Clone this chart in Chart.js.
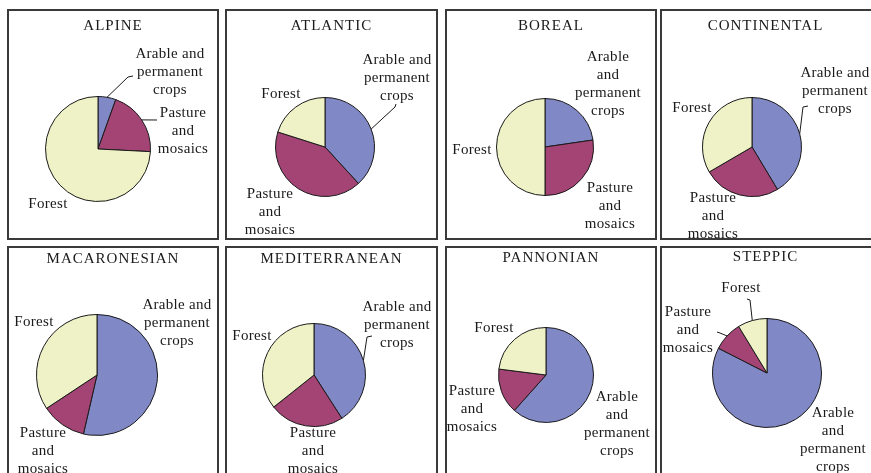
<!DOCTYPE html>
<html>
<head>
<meta charset="utf-8">
<script src="https://cdn.jsdelivr.net/npm/chart.js@4"></script>
<style>
  body { margin: 0; background: #fff; width: 871px; height: 473px; overflow: hidden; position: relative; }
  .panel { position: absolute; box-sizing: border-box; border: 2px solid #3a3a3a; }
  .panel canvas { position: absolute; left: 0; top: 0; }
</style>
</head>
<body>
<script>
// data
const regions = ['ALPINE', 'ATLANTIC', 'BOREAL', 'CONTINENTAL', 'MACARONESIAN', 'MEDITERRANEAN', 'PANNONIAN', 'STEPPIC'];
const categories = ['Arable and permanent crops', 'Pasture and mosaics', 'Forest'];
const arable  = [5.5, 38.2, 22.7, 41.4, 53.6, 40.9, 61.6, 82.5];
const pasture = [20.3, 41.7, 27.3, 25.2, 12.1, 23.4, 15.4, 8.8];
const forest  = [74.2, 20.1, 50.0, 33.4, 34.3, 35.7, 23.0, 8.7];
const colors = ['#8088c6', '#a34474', '#eff2c6'];

// layout (page pixels): panel box, pie centre/radius, title y
const boxes = [
    [7, 9, 212, 231], [225, 9, 213, 231], [445, 9, 212, 231], [660, 9, 215, 231],
    [7, 246, 212, 240], [225, 246, 213, 240], [445, 246, 212, 240], [660, 246, 215, 240]
];
const pies = [
    [98, 149, 53], [325, 147, 50], [545, 147, 49], [752, 147, 50],
    [97, 375, 61], [314, 375, 52], [546, 375, 48], [767, 373, 55]
];
const titleY = [26, 26, 26, 26, 259, 259, 258, 257];

// labels: slice index, lines, centre x, first line y, leader elbow points
const labels = [
    [
        {s: 0, lines: ['Arable and', 'permanent', 'crops'], x: 170, y: 54, leader: [[128, 77], [133, 76]]},
        {s: 1, lines: ['Pasture', 'and', 'mosaics'], x: 183, y: 113, leader: [[157, 120]]},
        {s: 2, lines: ['Forest'], x: 48, y: 204}
    ],
    [
        {s: 0, lines: ['Arable and', 'permanent', 'crops'], x: 397, y: 60, leader: [[395, 107], [396, 104]]},
        {s: 1, lines: ['Pasture', 'and', 'mosaics'], x: 270, y: 194},
        {s: 2, lines: ['Forest'], x: 281, y: 94}
    ],
    [
        {s: 0, lines: ['Arable', 'and', 'permanent', 'crops'], x: 608, y: 57},
        {s: 1, lines: ['Pasture', 'and', 'mosaics'], x: 610, y: 188},
        {s: 2, lines: ['Forest'], x: 472, y: 150}
    ],
    [
        {s: 0, lines: ['Arable and', 'permanent', 'crops'], x: 835, y: 73, leader: [[803, 107], [808, 106]]},
        {s: 1, lines: ['Pasture', 'and', 'mosaics'], x: 713, y: 198},
        {s: 2, lines: ['Forest'], x: 692, y: 108}
    ],
    [
        {s: 0, lines: ['Arable and', 'permanent', 'crops'], x: 177, y: 305},
        {s: 1, lines: ['Pasture', 'and', 'mosaics'], x: 43, y: 433},
        {s: 2, lines: ['Forest'], x: 34, y: 322}
    ],
    [
        {s: 0, lines: ['Arable and', 'permanent', 'crops'], x: 397, y: 307, leader: [[367, 337], [372, 336]]},
        {s: 1, lines: ['Pasture', 'and', 'mosaics'], x: 313, y: 433},
        {s: 2, lines: ['Forest'], x: 252, y: 336}
    ],
    [
        {s: 0, lines: ['Arable', 'and', 'permanent', 'crops'], x: 617, y: 397},
        {s: 1, lines: ['Pasture', 'and', 'mosaics'], x: 472, y: 391},
        {s: 2, lines: ['Forest'], x: 494, y: 328}
    ],
    [
        {s: 0, lines: ['Arable', 'and', 'permanent', 'crops'], x: 833, y: 413},
        {s: 1, lines: ['Pasture', 'and', 'mosaics'], x: 688, y: 312, leader: [[720, 333], [717, 332]]},
        {s: 2, lines: ['Forest'], x: 741, y: 288, leader: [[750, 300], [747, 299]]}
    ]
];

const FONT = '15px "Liberation Serif", "DejaVu Serif", serif';

const textPlugin = {
    id: 'panelText',
    afterDatasetsDraw(chart, args, opts) {
        const ctx = chart.ctx;
        const ox = opts.ox, oy = opts.oy;
        const arcs = chart.getDatasetMeta(0).data;
        ctx.save();
        ctx.fillStyle = '#1a1a1a';
        ctx.strokeStyle = '#1a1a1a';
        ctx.lineWidth = 1;
        ctx.font = FONT;
        ctx.textAlign = 'center';
        ctx.textBaseline = 'middle';
        ctx.letterSpacing = '1px';
        ctx.fillText(opts.title, opts.titleX - ox, opts.titleY - oy);
        ctx.letterSpacing = '0.3px';
        opts.labels.forEach(lb => {
            lb.lines.forEach((t, i) => ctx.fillText(t, lb.x - ox, lb.y + i * 18 - oy));
            if (lb.leader) {
                const a = arcs[lb.s];
                const mid = (a.startAngle + a.endAngle) / 2;
                ctx.beginPath();
                ctx.moveTo(a.x + Math.cos(mid) * a.outerRadius, a.y + Math.sin(mid) * a.outerRadius);
                lb.leader.forEach(p => ctx.lineTo(p[0] - ox, p[1] - oy));
                ctx.stroke();
            }
        });
        ctx.restore();
    }
};

regions.forEach((name, i) => {
    const [bx, by, bw, bh] = boxes[i];
    const div = document.createElement('div');
    div.className = 'panel';
    div.style.left = bx + 'px';
    div.style.top = by + 'px';
    div.style.width = bw + 'px';
    div.style.height = bh + 'px';
    const cw = bw - 4, ch = bh - 4;
    const canvas = document.createElement('canvas');
    canvas.width = cw;
    canvas.height = ch;
    canvas.style.width = cw + 'px';
    canvas.style.height = ch + 'px';
    div.appendChild(canvas);
    document.body.appendChild(div);

    const ox = bx + 2, oy = by + 2;
    const [cx, cy, r] = pies[i];
    const px = cx - ox, py = cy - oy;

    new Chart(canvas.getContext('2d'), {
        type: 'pie',
        data: {
            labels: categories,
            datasets: [{
                data: [arable[i], pasture[i], forest[i]],
                backgroundColor: colors,
                borderColor: '#1a1a1a',
                borderWidth: 1
            }]
        },
        options: {
            responsive: false,
            animation: false,
            events: [],
            layout: {
                padding: {left: px - r, top: py - r, right: cw - px - r, bottom: ch - py - r}
            },
            plugins: {
                legend: {display: false},
                tooltip: {enabled: false},
                panelText: {
                    ox: ox, oy: oy,
                    title: name,
                    titleX: bx + bw / 2 + (i % 4 === 3 ? -2 : 0),
                    titleY: titleY[i],
                    labels: labels[i]
                }
            }
        },
        plugins: [textPlugin]
    });
});
</script>
</body>
</html>
